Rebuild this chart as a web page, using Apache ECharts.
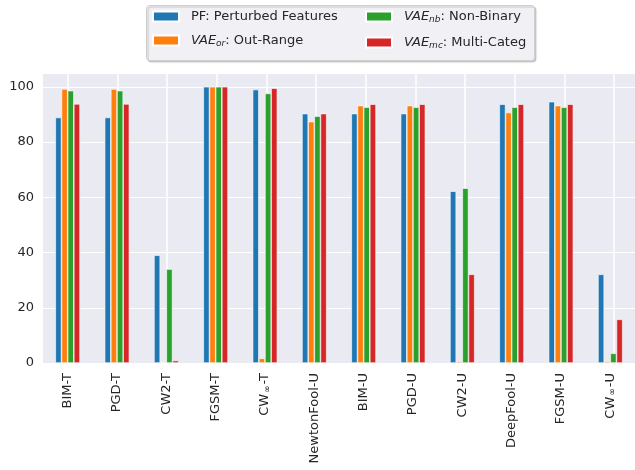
<!DOCTYPE html>
<html>
<head>
<meta charset="utf-8">
<script src="https://cdn.jsdelivr.net/npm/echarts@6/dist/echarts.min.js"></script>
<style>
  html, body { margin: 0; padding: 0; background: #fff; }
  #chart { width: 635px; height: 470px; }
</style>
</head>
<body>
<div id="chart"></div>
<script>
// Attack methods on the x axis
const categories = ['BIM-T', 'PGD-T', 'CW2-T', 'FGSM-T', 'CW∞-T', 'NewtonFool-U',
  'BIM-U', 'PGD-U', 'CW2-U', 'DeepFool-U', 'FGSM-U', 'CW∞-U'];

// Detection rate (%) per method
const pfValues = [88.9, 88.9, 39.0, 100, 99.0, 90.3, 90.3, 90.3, 62.2, 93.7, 94.6, 32.1];
const vaeOrValues = [99.2, 99.2, 0.0, 100, 1.7, 87.4, 93.2, 93.2, 0.6, 90.7, 93.2, 0.6];
const vaeNbValues = [98.6, 98.6, 34.0, 100, 97.6, 89.4, 92.6, 92.6, 63.3, 92.6, 92.6, 3.5];
const vaeMcValues = [93.8, 93.8, 0.9, 100, 99.5, 90.3, 93.7, 93.7, 32.1, 93.7, 93.7, 15.8];

const yTicks = [0, 20, 40, 60, 80, 100];
const yMax = 105;

const seriesNames = ['PF', 'VAE_or', 'VAE_nb', 'VAE_mc'];
const seriesLabels = {
  PF: '{n|PF: Perturbed Features}',
  VAE_or: '{i|VAE}{s|or}{n|: Out-Range}',
  VAE_nb: '{i|VAE}{s|nb}{n|: Non-Binary}',
  VAE_mc: '{i|VAE}{s|mc}{n|: Multi-Categ}'
};
const colors = ['#1f77b4', '#ff7f0e', '#2ca02c', '#d62728'];
const seriesData = [pfValues, vaeOrValues, vaeNbValues, vaeMcValues];

const FONT = 'DejaVu Sans';
const TEXT = '#262626';

// Plot area
const PLOT = { left: 43, top: 73, width: 596, height: 290 };
const nCat = categories.length;
const band = PLOT.width / nCat;

const legendRich = {
  n: { fontFamily: FONT, fontSize: 13, color: TEXT, lineHeight: 16 },
  i: { fontFamily: FONT, fontSize: 13, color: TEXT, fontStyle: 'italic', lineHeight: 16 },
  s: { fontFamily: FONT, fontSize: 9, color: TEXT, fontStyle: 'italic', verticalAlign: 'bottom', lineHeight: 16, padding: [4, 0, 0, 0] }
};

function legendAt(name, left, top) {
  return {
    data: [name],
    left: left,
    top: top,
    padding: 0,
    itemWidth: 26,
    itemHeight: 10,
    itemGap: 0,
    icon: 'rect',
    selectedMode: false,
    formatter: n => seriesLabels[n],
    textStyle: { padding: [0, 0, 0, 7], rich: legendRich }
  };
}

function xLabel(v) {
  const m = v.match(/^CW∞(.*)$/);
  if (m) return '{a|CW}{s|∞}{a|' + m[1] + '}';
  return '{a|' + v + '}';
}

const barSeries = seriesNames.map((name, k) => ({
  name: name,
  type: 'bar',
  data: seriesData[k],
  barGap: '0%',
  barCategoryGap: '50%',
  z: 3,
  itemStyle: { color: colors[k], borderColor: '#ffffff', borderWidth: 0.6 }
}));

const option = {
  animation: false,
  backgroundColor: '#ffffff',
  color: colors,
  graphic: [{
    type: 'rect',
    shape: { x: 146.5, y: 5.5, width: 388, height: 55, r: 3 },
    style: {
      fill: 'rgba(240,240,245,1)',
      stroke: '#cfcfcf',
      lineWidth: 1,
      shadowColor: 'rgba(0,0,0,0.18)',
      shadowOffsetX: 1.5,
      shadowOffsetY: 1.5,
      shadowBlur: 1
    },
    z: 0
  }],
  legend: [
    legendAt('PF', 152, 10),
    legendAt('VAE_or', 152, 34),
    legendAt('VAE_nb', 365, 10),
    legendAt('VAE_mc', 365, 36)
  ],
  grid: [
    {
      left: PLOT.left, top: PLOT.top, width: PLOT.width, height: PLOT.height,
      show: true, backgroundColor: '#EAEAF2', borderWidth: 0
    },
    // Spans first to last category centre; its x split lines are the vertical grid lines
    {
      left: PLOT.left + band / 2, top: PLOT.top,
      width: band * (nCat - 1), height: PLOT.height,
      show: false
    }
  ],
  xAxis: [
    {
      type: 'category',
      data: categories,
      axisLine: { show: false },
      axisTick: { show: false },
      splitLine: { show: false },
      axisLabel: {
        rotate: 90,
        margin: 10,
        formatter: xLabel,
        rich: {
          a: { fontFamily: FONT, fontSize: 13, color: TEXT },
          s: { fontFamily: FONT, fontSize: 9, color: TEXT, verticalAlign: 'bottom', padding: [5, 1, 0, 1] }
        }
      }
    },
    {
      type: 'value',
      gridIndex: 1,
      min: 0,
      max: nCat - 1,
      interval: 1,
      z: 1,
      axisLine: { show: false },
      axisTick: { show: false },
      axisLabel: { show: false },
      splitLine: { show: true, lineStyle: { color: '#ffffff', width: 1.5 } }
    }
  ],
  yAxis: [
    {
      type: 'value',
      min: 0,
      max: yMax,
      interval: 20,
      axisLine: { show: false },
      axisTick: { show: false },
      splitLine: { lineStyle: { color: '#ffffff', width: 1.2 } },
      axisLabel: {
        margin: 9,
        fontFamily: FONT,
        fontSize: 13,
        color: TEXT,
        formatter: v => (yTicks.indexOf(v) >= 0 ? String(v) : '')
      }
    },
    {
      type: 'value',
      gridIndex: 1,
      min: 0,
      max: 1,
      show: false,
      splitLine: { show: false }
    }
  ],
  series: barSeries.concat([{
    name: 'gridlines',
    type: 'scatter',
    xAxisIndex: 1,
    yAxisIndex: 1,
    data: [],
    silent: true
  }])
};

const chart = echarts.init(document.getElementById('chart'), null, { renderer: 'canvas' });
chart.setOption(option);
</script>
</body>
</html>
